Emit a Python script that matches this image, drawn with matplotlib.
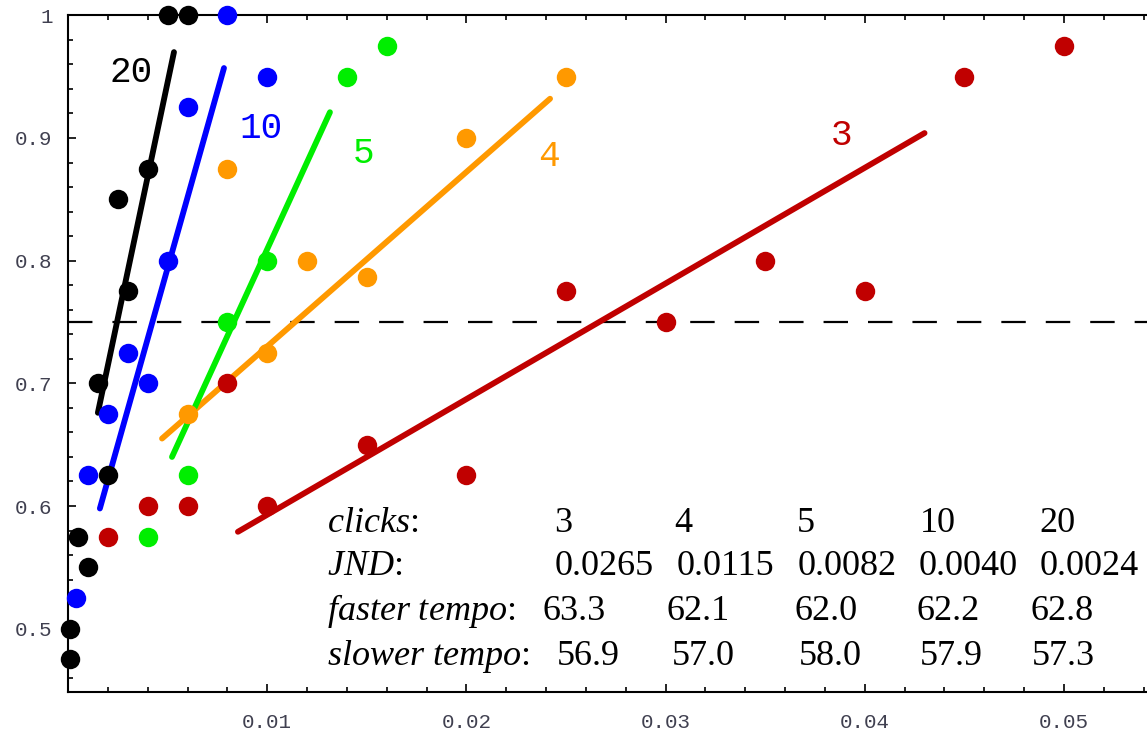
import matplotlib
matplotlib.use("Agg")
import matplotlib.pyplot as plt
from matplotlib.ticker import MultipleLocator, FixedLocator, FixedFormatter

plt.rcParams["mathtext.fontset"] = "custom"
plt.rcParams["mathtext.it"] = "Liberation Serif:italic"
plt.rcParams["mathtext.rm"] = "Liberation Serif"

# series, in the order 3, 4, 5, 10, 20 clicks
clicks = ["3", "4", "5", "10", "20"]
colors = ["#c00000", "#ff9900", "#00ee00", "#0000ff", "#000000"]

x_3 = [0.002, 0.004, 0.006, 0.008, 0.010, 0.015, 0.020, 0.025, 0.030, 0.035, 0.040, 0.045, 0.050]
y_3 = [0.575, 0.600, 0.600, 0.700, 0.600, 0.650, 0.625, 0.775, 0.750, 0.800, 0.775, 0.950, 0.975]

x_4 = [0.006, 0.008, 0.010, 0.012, 0.015, 0.020, 0.025]
y_4 = [0.675, 0.875, 0.725, 0.800, 0.787, 0.900, 0.950]

x_5 = [0.004, 0.006, 0.008, 0.010, 0.014, 0.016]
y_5 = [0.575, 0.625, 0.750, 0.800, 0.950, 0.975]

x_10 = [0.0004, 0.001, 0.002, 0.003, 0.004, 0.005, 0.006, 0.008, 0.010]
y_10 = [0.525, 0.625, 0.675, 0.725, 0.700, 0.800, 0.925, 1.000, 0.950]

x_20 = [0.0001, 0.0001, 0.0005, 0.001, 0.0015, 0.002, 0.003, 0.0025, 0.004, 0.005, 0.006]
y_20 = [0.475, 0.500, 0.575, 0.550, 0.700, 0.625, 0.775, 0.850, 0.875, 1.000, 1.000]

xs = [x_3, x_4, x_5, x_10, x_20]
ys = [y_3, y_4, y_5, y_10, y_20]

# fitted lines (end points)
fit_x_lo = [0.00853, 0.00472, 0.00522, 0.0016, 0.0015]
fit_x_hi = [0.0430, 0.0242, 0.01315, 0.00783, 0.00532]
fit_y_lo = [0.579, 0.655, 0.640, 0.598, 0.676]
fit_y_hi = [0.904, 0.932, 0.921, 0.957, 0.970]

threshold = 0.75

# table under the curves
row_labels = ["clicks", "JND", "faster tempo", "slower tempo"]
jnd = ["0.0265", "0.0115", "0.0082", "0.0040", "0.0024"]
faster = ["63.3", "62.1", "62.0", "62.2", "62.8"]
slower = ["56.9", "57.0", "58.0", "57.9", "57.3"]

xtick_vals = [0.01, 0.02, 0.03, 0.04, 0.05]
xtick_labels = ["0.01", "0.02", "0.03", "0.04", "0.05"]
ytick_vals = [0.5, 0.6, 0.7, 0.8, 0.9, 1.0]
ytick_labels = ["0.5", "0.6", "0.7", "0.8", "0.9", "1"]

W, H = 1147, 731
fig = plt.figure(figsize=(W / 100, H / 100), dpi=100)
ax = fig.add_axes([68 / W, 39 / H, (W - 68) / W, (692 - 15.3) / H])
ax.set_xlim(0, (W - 68) / 19920)
ax.set_ylim(1 - (692 - 15.3) / 1226.8, 1.0)

ax.axhline(threshold, color="black", lw=1.6, dashes=(11, 9), zorder=1)

for i in range(len(clicks)):
    ax.plot([fit_x_lo[i], fit_x_hi[i]], [fit_y_lo[i], fit_y_hi[i]],
            color=colors[i], lw=4.2, solid_capstyle="round", zorder=2)
    ax.plot(xs[i], ys[i], "o", color=colors[i], ms=14, mec="none",
            clip_on=False, zorder=3)

# curve labels
label_pos = [(0.0383, 0.894), (0.0236, 0.877), (0.0143, 0.880), (0.0086, 0.900), (0.0021, 0.946)]
for i, (lx, ly) in enumerate(label_pos):
    ax.text(lx, ly, clicks[i], color=colors[i], fontsize=26,
            family="Liberation Mono", ha="left", va="baseline")

# axes styling
ax.spines["right"].set_visible(False)
for s in ["left", "bottom", "top"]:
    ax.spines[s].set_linewidth(1.5)

ax.xaxis.set_major_locator(FixedLocator(xtick_vals))
ax.xaxis.set_major_formatter(FixedFormatter(xtick_labels))
ax.yaxis.set_major_locator(FixedLocator(ytick_vals))
ax.yaxis.set_major_formatter(FixedFormatter(ytick_labels))
ax.xaxis.set_minor_locator(MultipleLocator(0.002))
ax.yaxis.set_minor_locator(MultipleLocator(0.02))
ax.tick_params(which="both", direction="in", top=True, right=False, width=1.2,
               labelsize=15, labelcolor="#404050")
ax.tick_params(which="major", length=6)
ax.tick_params(which="minor", length=3.6)
ax.tick_params(axis="x", pad=15)
ax.tick_params(axis="y", pad=11)
for lab in ax.get_xticklabels() + ax.get_yticklabels():
    lab.set_family("Liberation Mono")

# table text, placed in figure pixels
def put(px, py, s):
    fig.text(px / W, 1 - py / H, s, fontsize=26, family="Liberation Serif",
             ha="left", va="baseline")

baselines = [532, 575, 620, 665]
for r, lab in enumerate(row_labels):
    put(327, baselines[r], r"$\mathit{" + lab.replace(" ", r"\ ") + "}$:")

cols_clicks = [554, 674, 797, 920, 1039]
cols_jnd = [555, 677, 798, 919, 1040]
cols_fast = [543, 666, 795, 917, 1031]
cols_slow = [557, 672, 799, 920, 1032]
for j in range(5):
    put(cols_clicks[j], baselines[0], clicks[j])
    put(cols_jnd[j], baselines[1], jnd[j])
    put(cols_fast[j], baselines[2], faster[j])
    put(cols_slow[j], baselines[3], slower[j])

fig.savefig("out.png", dpi=100)
